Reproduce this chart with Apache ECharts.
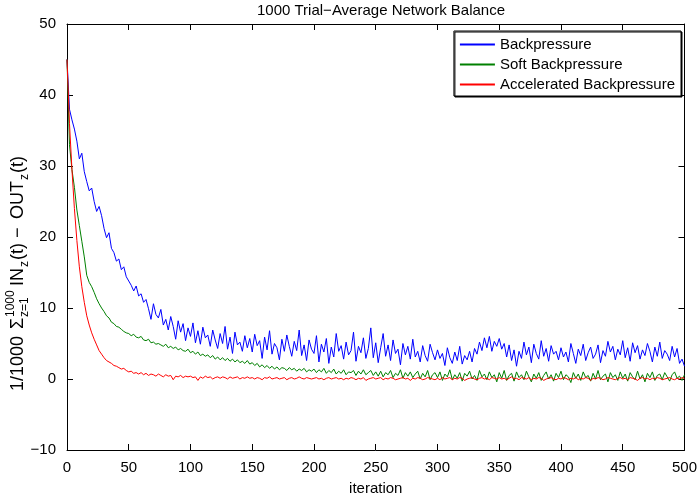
<!DOCTYPE html>
<html>
    <head>
        <meta charset="UTF-8">
        <script src="https://cdn.jsdelivr.net/npm/echarts@6/dist/echarts.min.js"></script>
        <style>
            html, body { margin: 0; padding: 0; background: #fff; }
        </style>
    </head>

    <body>
        <div id="main" style="width:700px;height:501px"></div>
        <script type="text/javascript">
            // values, one every 2 iterations (t = 0, 2, ..., 500)
            var step = 2;
            var seriesNames = ['Backpressure', 'Soft Backpressure', 'Accelerated Backpressure'];
            var xTicks = [0, 50, 100, 150, 200, 250, 300, 350, 400, 450, 500];
            var yTicks = [-10, 0, 10, 20, 30, 40, 50];

            var backpressure = [
                45.0, 38.0, 36.5, 35.2, 33.5, 31.0, 31.8, 29.2, 27.8, 26.5, 26.9, 25.0, 23.6, 24.3, 23.0, 21.2, 19.9, 20.6, 18.4, 17.8, 16.6, 16.9, 15.4, 15.8, 14.4,
                13.8, 13.2, 12.4, 13.1, 11.7, 12.0, 10.8, 11.2, 9.9, 8.4, 10.6, 9.1, 8.6, 9.8, 7.6, 8.4, 6.9, 8.8, 7.4, 5.6, 8.2, 6.6, 7.8, 5.4, 7.2,
                6.0, 7.9, 5.1, 6.8, 4.9, 7.3, 5.8, 6.2, 4.6, 6.9, 5.5, 4.3, 6.4, 5.0, 7.4, 4.2, 5.9, 3.6, 6.6, 4.8, 5.2, 3.9, 6.1, 4.4, 5.7,
                3.8, 6.3, 4.7, 5.4, 2.9, 5.9, 4.1, 6.8, 3.5, 5.0, 4.4, 2.7, 5.6, 3.9, 6.2, 4.6, 3.2, 5.3, 4.0, 6.9, 3.3, 4.8, 2.6, 5.5, 4.2,
                3.6, 6.1, 2.4, 4.9, 3.8, 5.7, 2.2, 4.5, 3.1, 6.4, 3.9, 4.7, 2.8, 5.2, 3.4, 4.0, 6.6, 2.5, 4.6, 3.7, 5.8, 2.9, 4.3, 7.2, 3.0,
                5.1, 2.3, 4.4, 6.4, 3.2, 4.8, 2.6, 5.5, 3.6, 4.2, 2.0, 5.0, 3.4, 4.6, 2.8, 5.6, 3.1, 3.9, 2.4, 4.7, 3.3, 2.5, 4.9, 3.7, 2.7,
                4.1, 2.9, 3.6, 1.9, 4.4, 3.0, 2.2, 3.8, 2.6, 4.6, 2.1, 3.3, 2.7, 3.9, 2.4, 4.3, 3.5, 5.2, 4.0, 5.8, 4.4, 6.0, 3.9, 5.3, 4.6,
                5.7, 4.2, 5.0, 3.1, 4.8, 2.6, 4.1, 1.8, 3.9, 2.9, 5.2, 3.4, 4.5, 2.3, 4.9, 3.6, 2.8, 5.4, 3.2, 4.3, 2.5, 4.7, 3.5, 3.9, 2.7,
                4.4, 3.1, 3.8, 2.4, 5.0, 3.6, 2.2, 4.2, 3.3, 4.9, 2.6, 3.7, 4.5, 2.9, 3.5, 4.8, 2.3, 4.0, 3.2, 5.3, 3.8, 4.6, 2.7, 4.2, 3.4,
                5.4, 3.0, 4.4, 2.5, 5.1, 3.7, 4.7, 2.8, 4.1, 3.3, 5.0, 3.9, 2.4, 4.5, 3.2, 5.2, 2.9, 4.0, 3.5, 2.6, 4.6, 3.1, 4.3, 2.2, 2.8, 1.8
            ];
            var softBackpressure = [
                45.0, 33.0, 29.5, 27.0, 23.8, 21.6, 19.4, 17.2, 14.6, 13.6, 13.0, 12.2, 11.3, 10.6, 10.0, 9.5, 8.9, 8.6, 8.0, 7.8, 7.4, 7.3, 7.0, 6.7, 6.5,
                6.4, 6.1, 6.3, 5.9, 5.8, 6.0, 5.5, 5.4, 5.6, 5.1, 5.2, 4.9, 5.0, 4.8, 4.6, 4.9, 4.4, 4.6, 4.3, 4.5, 4.1, 4.3, 4.0, 3.9, 4.2,
                3.7, 3.9, 3.5, 3.8, 3.3, 3.5, 3.2, 3.4, 3.0, 3.3, 2.8, 3.1, 2.7, 3.0, 2.6, 2.9, 2.5, 2.8, 2.4, 2.7, 2.3, 2.5, 2.2, 2.6, 2.1,
                2.3, 1.9, 2.2, 1.7, 2.0, 1.6, 1.9, 1.5, 1.8, 1.4, 1.7, 1.3, 1.6, 1.5, 1.2, 1.6, 1.3, 1.5, 1.1, 1.4, 1.2, 1.5, 1.0, 1.3, 1.1,
                1.4, 0.9, 1.3, 1.0, 1.5, 0.8, 1.2, 0.9, 1.4, 0.7, 1.1, 0.8, 1.3, 0.6, 1.0, 0.9, 1.2, 0.5, 1.1, 0.7, 1.3, 0.6, 0.9, 1.2, 0.5,
                1.0, 0.4, 1.1, 0.3, 0.9, 0.6, 1.2, 0.2, 0.8, 0.5, 1.3, 0.1, 0.9, 0.4, 1.0, 0.2, 0.7, 1.1, 0.0, 0.8, 0.3, 1.2, -0.1, 0.6, 0.9,
                0.2, 1.0, -0.2, 0.7, 0.3, 1.3, -0.1, 0.6, 0.1, 0.9, -0.3, 0.8, 0.4, 1.1, 0.0, 0.5, -0.2, 1.2, 0.3, 0.7, -0.1, 1.0, 0.2, 0.6, -0.4,
                0.9, 0.1, 1.2, -0.2, 0.5, 0.8, -0.3, 1.0, 0.2, 0.6, -0.1, 1.1, 0.3, -0.4, 0.7, 0.1, 0.9, -0.2, 0.5, 1.0, 0.0, 0.6, -0.3, 0.8, 0.2,
                1.1, -0.1, 0.6, 0.3, -0.5, 0.9, 0.1, 0.7, -0.2, 1.0, 0.2, 0.5, -0.3, 0.8, 0.0, 1.2, -0.1, 0.4, 0.7, -0.4, 0.9, 0.2, 0.6, -0.2, 1.0,
                0.1, 0.7, -0.3, 0.9, 0.3, -0.1, 1.1, 0.0, 0.6, -0.4, 0.8, 0.2, 1.0, -0.2, 0.5, 0.7, -0.1, 0.9, 0.3, -0.3, 0.6, 1.0, 0.1, 0.4, -0.2, 0.6
            ];
            var acceleratedBackpressure = [
                45.0, 36.0, 29.5, 24.0, 19.5, 15.8, 13.0, 10.8, 8.9, 7.6, 6.5, 5.6, 4.8, 4.0, 3.5, 3.0, 2.6, 2.4, 2.2, 1.9, 1.8, 1.6, 1.4, 1.5, 1.2,
                1.0, 1.1, 0.8, 0.9, 0.7, 0.9, 0.6, 0.8, 0.5, 0.7, 0.6, 0.4, 0.7, 0.5, 0.3, 0.6, 0.4, 0.5, -0.1, 0.4, 0.3, 0.5, 0.2, 0.4, 0.3,
                0.4, 0.2, 0.3, -0.2, 0.3, 0.1, 0.4, 0.2, 0.3, 0.0, 0.2, 0.3, 0.1, 0.3, 0.2, 0.0, 0.3, 0.1, 0.2, 0.3, 0.0, 0.2, 0.1, 0.3, 0.1,
                0.2, 0.0, 0.2, 0.1, -0.1, 0.2, 0.1, 0.3, 0.0, 0.1, 0.2, 0.0, 0.1, 0.2, -0.1, 0.1, 0.2, 0.0, 0.1, 0.3, 0.1, 0.0, 0.2, 0.1, 0.0,
                0.1, 0.2, 0.0, 0.1, -0.1, 0.1, 0.2, 0.0, 0.1, 0.2, 0.0, 0.1, -0.1, 0.1, 0.0, 0.2, 0.1, -0.1, 0.1, 0.0, 0.2, -0.2, 0.0, 0.1, 0.2,
                0.0, 0.1, 0.2, -0.1, 0.1, 0.0, 0.2, 0.1, -0.1, 0.0, 0.1, 0.2, 0.0, 0.1, -0.2, 0.1, 0.0, 0.2, 0.1, -0.1, 0.0, 0.2, 0.1, 0.0, -0.1,
                0.1, -0.1, 0.2, 0.0, 0.1, 0.2, -0.1, 0.1, 0.0, 0.2, 0.1, -0.2, 0.0, 0.1, 0.2, 0.0, -0.1, 0.1, 0.2, 0.0, 0.1, -0.1, 0.2, 0.1, 0.0,
                0.2, 0.0, 0.1, -0.1, 0.1, 0.3, 0.0, 0.1, -0.1, 0.2, 0.1, 0.0, 0.2, -0.1, 0.1, 0.0, 0.2, 0.1, -0.2, 0.0, 0.1, 0.2, 0.0, -0.1, 0.1,
                0.0, 0.2, 0.1, -0.1, 0.1, 0.0, 0.2, -0.1, 0.1, 0.0, 0.2, 0.1, -0.2, 0.1, 0.0, 0.2, 0.1, -0.1, 0.0, 0.2, 0.1, 0.0, -0.1, 0.1, 0.2,
                0.0, 0.1, -0.1, 0.2, 0.1, 0.0, -0.2, 0.1, 0.2, 0.0, 0.1, -0.1, 0.1, 0.0, 0.2, 0.1, -0.1, 0.0, 0.1, 0.2, 0.0, -0.1, 0.1, 0.0, 0.2, 0.1
            ];

            var FONT = '"Liberation Sans", Arial, Helvetica, sans-serif';
            var colors = ['#0000ff', '#008000', '#ff0000'];
            var seriesValues = [backpressure, softBackpressure, acceleratedBackpressure];

            function toPairs(vals) {
                return vals.map(function (v, i) { return [i * step, v]; });
            }
            function minusSign(v) {
                return v < 0 ? '\u2212' + (-v) : String(v);
            }

            var chartDom = document.getElementById('main');
            var myChart = echarts.init(chartDom, null, { renderer: 'canvas' });

            var axisCommon = {
                axisLine: { onZero: false, lineStyle: { color: '#000', width: 1 } },
                axisTick: { inside: true, length: 6, lineStyle: { color: '#000' } },
                splitLine: { show: false }
            };

            // y-axis label: 1/1000 Σ_{z=1}^{1000} IN_z(t) − OUT_z(t), drawn rotated
            var f = '18px ' + FONT;
            var fs = '12px ' + FONT;
            var yLabel = [
                { t: '1/1000', x: 0, y: 0, font: f },
                { t: '\u03A3', x: 62, y: 0, font: f },
                { t: '1000', x: 74, y: -7, font: fs },
                { t: 'z=1', x: 74, y: 7, font: fs },
                { t: 'IN', x: 105, y: 0, font: f },
                { t: 'z', x: 124, y: 7, font: fs },
                { t: '(t)', x: 131, y: 0, font: f },
                { t: '\u2212', x: 153, y: 0, font: f },
                { t: 'OUT', x: 172, y: 0, font: f },
                { t: 'z', x: 211, y: 7, font: fs },
                { t: '(t)', x: 218, y: 0, font: f }
            ];

            var option = {
                animation: false,
                backgroundColor: '#fff',
                title: {
                    text: '1000 Trial\u2212Average Network Balance',
                    left: 376,
                    top: -2,
                    textAlign: 'center',
                    textStyle: { fontFamily: FONT, fontSize: 15, fontWeight: 'normal', color: '#000' }
                },
                legend: {
                    data: seriesNames,
                    orient: 'vertical',
                    right: 19,
                    top: 31,
                    itemWidth: 35,
                    itemHeight: 14,
                    itemGap: 5,
                    padding: [6, 6, 4, 5],
                    backgroundColor: '#fff',
                    borderColor: '#000',
                    borderWidth: 1,
                    borderRadius: 0,
                    shadowColor: '#000',
                    shadowOffsetX: 1,
                    shadowOffsetY: 1,
                    itemStyle: { opacity: 0 },
                    textStyle: { fontFamily: FONT, fontSize: 15, color: '#000' }
                },
                grid: { left: 67, right: 14, top: 24, bottom: 40 },
                xAxis: [
                    Object.assign({
                        type: 'value', min: 0, max: 500, interval: 50, position: 'bottom',
                        name: 'iteration', nameLocation: 'middle', nameGap: 31,
                        nameTextStyle: { fontFamily: FONT, fontSize: 15, color: '#000' },
                        axisLabel: { fontFamily: FONT, fontSize: 15, color: '#000', margin: 10,
                            customValues: xTicks }
                    }, axisCommon),
                    Object.assign({
                        type: 'value', min: 0, max: 500, interval: 50, position: 'top',
                        axisLabel: { show: false }
                    }, axisCommon)
                ],
                yAxis: [
                    Object.assign({
                        type: 'value', min: -10, max: 50, interval: 10, position: 'left',
                        axisLabel: { fontFamily: FONT, fontSize: 15, color: '#000', margin: 11,
                            formatter: minusSign }
                    }, axisCommon),
                    Object.assign({
                        type: 'value', min: -10, max: 50, interval: 10, position: 'right',
                        axisLabel: { show: false }
                    }, axisCommon)
                ],
                graphic: [{
                    type: 'group',
                    x: 18,
                    y: 391,
                    rotation: Math.PI / 2,
                    children: yLabel.map(function (p) {
                        return {
                            type: 'text', x: p.x, y: p.y,
                            style: { text: p.t, font: p.font, fill: '#000',
                                textAlign: 'left', textVerticalAlign: 'middle', verticalAlign: 'middle' }
                        };
                    })
                }],
                series: seriesNames.map(function (name, k) {
                    return {
                        name: name, type: 'line', data: toPairs(seriesValues[k]), symbol: 'none',
                        lineStyle: { color: colors[k], width: 1 }, itemStyle: { color: colors[k] }
                    };
                })
            };

            option && myChart.setOption(option);
        </script>
    </body>
</html>
